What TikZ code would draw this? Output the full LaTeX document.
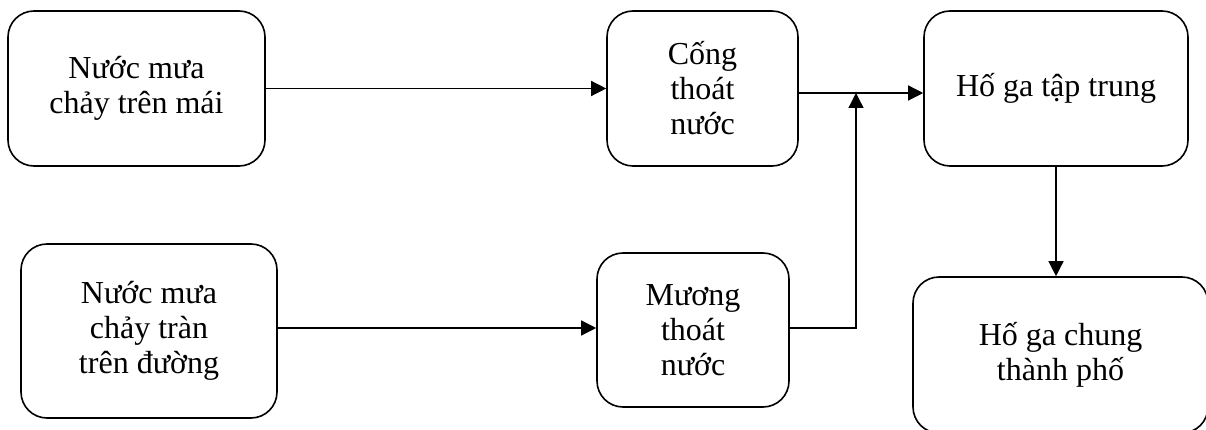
\documentclass[tikz,border=0pt]{standalone}
\usepackage{fontspec}
\setmainfont{Liberation Serif}
\usetikzlibrary{arrows.meta}
\begin{document}
\begin{tikzpicture}[x=1pt,y=-1pt,
  flowbox/.style={draw, line width=1.6pt, rounded corners=26pt, inner sep=0pt,
    align=center, font=\fontsize{32}{35}\selectfont},
  flowarrow/.style={line width=1.3pt, -{Triangle[length=15pt,width=15pt]}}]
\useasboundingbox (0,0) rectangle (1206,430);
% boxes
\node[flowbox, minimum width=257pt, minimum height=155pt] (roof) at (136.5,88.5) {Nước mưa\\chảy trên mái};
\node[flowbox, minimum width=191pt, minimum height=155pt] (sewer) at (702.5,88.5) {Cống\\thoát\\nước};
\node[flowbox, minimum width=264pt, minimum height=155pt] (pit) at (1056,88.5) {Hố ga tập trung};
\node[flowbox, minimum width=256pt, minimum height=174pt] (road) at (149,331) {Nước mưa\\chảy tràn\\trên đường};
\node[flowbox, minimum width=192pt, minimum height=154pt] (ditch) at (693,330) {Mương\\thoát\\nước};
\node[flowbox, minimum width=295pt, minimum height=156pt] (city) at (1060.5,355) {Hố ga chung\\thành phố};
% junction points
\coordinate (jtop) at (856,93);
\coordinate (jbot) at (856,328);
% connectors
\draw[flowarrow] (roof.east) -- (sewer.west);
\draw[flowarrow] (sewer.east |- jtop) -- (pit.west |- jtop);
\draw[flowarrow] (road.east |- jbot) -- (ditch.west |- jbot);
\draw[flowarrow] (ditch.east |- jbot) -- (jbot) -- (jtop);
\draw[flowarrow] (pit.south) -- (pit.south |- city.north);
\end{tikzpicture}
\end{document}
